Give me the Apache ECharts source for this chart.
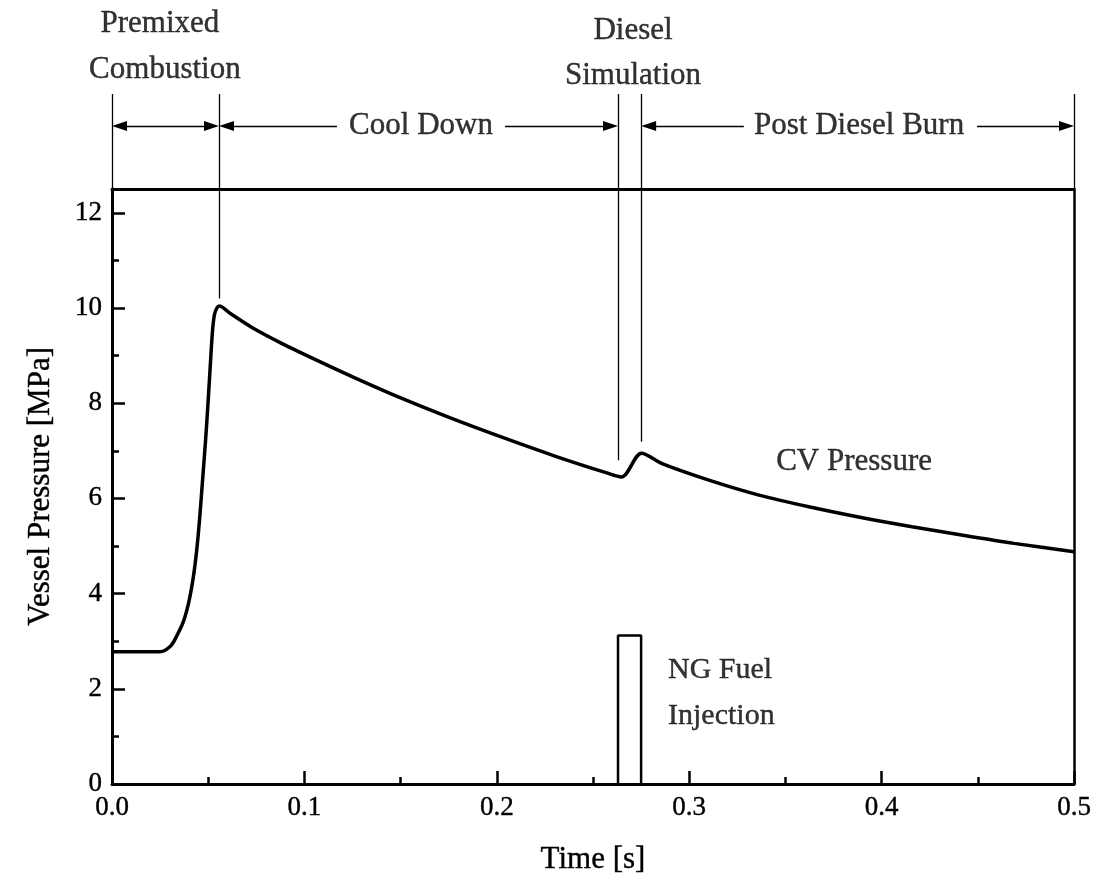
<!DOCTYPE html>
<html>
<head>
<meta charset="utf-8">
<script src="https://cdn.jsdelivr.net/npm/echarts@6/dist/echarts.min.js"></script>
<style>
  html, body { margin: 0; padding: 0; background: #fff; }
  #chart { width: 1098px; height: 885px; }
</style>
</head>
<body>
<div id="chart"></div>
<script>
// ─── Data ─────────────────────────────────────────────────────────────────
const timeS = [0, 0.025, 0.0305, 0.0335, 0.037, 0.0398, 0.0421, 0.044, 0.0456, 0.0471,
  0.0486, 0.0499, 0.0511, 0.0522, 0.0532, 0.0545, 0.0558, 0.0613, 0.0734, 0.089,
  0.1, 0.1242, 0.1507, 0.1772, 0.2037, 0.2302, 0.2568, 0.2648, 0.2752, 0.2859,
  0.3098, 0.3363, 0.3628, 0.3893, 0.4158, 0.4423, 0.4688, 0.5];
const pressureMPa = [2.78, 2.78, 2.9, 3.1, 3.4, 3.8, 4.3, 4.9, 5.6, 6.4,
  7.2, 8.0, 8.8, 9.5, 9.85, 10.0, 10.04, 9.89, 9.575, 9.24,
  9.025, 8.57, 8.10, 7.67, 7.27, 6.89, 6.54, 6.45, 6.95, 6.73,
  6.39, 6.07, 5.82, 5.60, 5.405, 5.225, 5.055, 4.88];

// NG fuel injection pulse (outline)
const injectionT = [0.263, 0.263, 0.275, 0.275];
const injectionLevel = [0, 3.12, 3.12, 0];

// phase boundaries and where their guide lines stop inside the plot
const phaseEdges = [0, 0.0556, 0.263, 0.275, 0.5];
const guideEnds = [null, 10.2, 6.8, 7.19, null];

const yMajor = [0, 2, 4, 6, 8, 10, 12];
const yMinor = [1, 3, 5, 7, 9, 11];

// ─── Helpers ──────────────────────────────────────────────────────────────
const FONT = "'Liberation Serif', 'Times New Roman', serif";
const zip = (a, b) => a.map((v, i) => [v, b[i]]);
const ARROW_Y = 0.667;
const HEAD = 0.0039;   // half an arrowhead, so the tip lands on the boundary

const textStyle = (size) => ({
  color: '#000', fontFamily: FONT, fontSize: size,
  textBorderColor: '#000', textBorderWidth: 0.4
});

const guideLines = phaseEdges
  .map((t, i) => guideEnds[i] == null ? null : [{ coord: [t, 12.5] }, { coord: [t, guideEnds[i]] }])
  .filter(Boolean);

const topVerticals = phaseEdges.map(t => [{ coord: [t, 0] }, { coord: [t, 1.005] }]);

function arrowSeg(x0, x1, a0, a1) {
  return [
    { coord: [a0 ? x0 + HEAD : x0, ARROW_Y], symbol: a0 ? 'triangle' : 'none' },
    { coord: [a1 ? x1 - HEAD : x1, ARROW_Y], symbol: a1 ? 'triangle' : 'none' }
  ];
}

const topArrows = [
  arrowSeg(phaseEdges[0], phaseEdges[1], true, true),
  arrowSeg(phaseEdges[1], 0.1169, true, false),
  arrowSeg(0.2043, phaseEdges[2], false, true),
  arrowSeg(phaseEdges[3], 0.3284, true, false),
  arrowSeg(0.4496, phaseEdges[4], false, true)
];

const topTexts = [
  { value: [0.0249, 1.746], name: 'Premixed' },
  { value: [0.0275, 1.259], name: 'Combustion' },
  { value: [0.2708, 1.672], name: 'Diesel' },
  { value: [0.2708, 1.196], name: 'Simulation' },
  { value: [0.1606, ARROW_Y], name: 'Cool Down' },
  { value: [0.3883, ARROW_Y], name: 'Post Diesel Burn' }
];

const plotTexts = [
  { value: [0.3857, 6.76], name: 'CV Pressure', label: { fontSize: 31 } },
  { value: [0.289, 1.91], name: 'NG Fuel\nInjection', label: { align: 'left', lineHeight: 46 } }
];

// ─── Chart ────────────────────────────────────────────────────────────────
const chart = echarts.init(document.getElementById('chart'));

chart.setOption({
  animation: false,
  backgroundColor: '#fff',
  grid: [
    { left: 112, right: 24, top: 189, bottom: 101 },
    { left: 112, right: 24, top: 0, height: 189 }
  ],
  xAxis: [
    {
      gridIndex: 0, type: 'value', min: 0, max: 0.5, interval: 0.1,
      axisLine: { lineStyle: { color: '#000', width: 3 } },
      axisTick: { inside: true, length: 13, lineStyle: { color: '#000', width: 2.5 } },
      minorTick: { show: true, splitNumber: 2, length: 7, lineStyle: { color: '#000', width: 2.5 } },
      splitLine: { show: false },
      axisLabel: { ...textStyle(27), margin: 10, formatter: v => v.toFixed(1) },
      name: 'Time [s]', nameLocation: 'middle', nameGap: 60,
      nameTextStyle: textStyle(31)
    },
    {
      gridIndex: 0, type: 'value', min: 0, max: 0.5, position: 'top',
      axisLine: { show: true, onZero: false, lineStyle: { color: '#000', width: 3 } },
      axisTick: { show: false }, axisLabel: { show: false }, splitLine: { show: false }
    },
    { gridIndex: 1, type: 'value', min: 0, max: 0.5, show: false }
  ],
  yAxis: [
    {
      gridIndex: 0, type: 'value', min: 0, max: 12.5,
      axisLine: { show: true, lineStyle: { color: '#000', width: 3 } },
      axisTick: { show: true, inside: true, length: 13, customValues: yMajor, lineStyle: { color: '#000', width: 2.5 } },
      splitLine: { show: false },
      axisLabel: { ...textStyle(27), margin: 10, customValues: yMajor },
      name: 'Vessel Pressure [MPa]', nameLocation: 'middle', nameGap: 56,
      nameTextStyle: textStyle(31)
    },
    {
      gridIndex: 0, type: 'value', min: 0, max: 12.5, position: 'left',
      axisLine: { show: false },
      axisTick: { show: true, inside: true, length: 7, customValues: yMinor, lineStyle: { color: '#000', width: 2.5 } },
      axisLabel: { show: false }, splitLine: { show: false }
    },
    {
      gridIndex: 0, type: 'value', min: 0, max: 12.5, position: 'right',
      axisLine: { show: true, onZero: false, lineStyle: { color: '#000', width: 2.5 } },
      axisTick: { show: false }, axisLabel: { show: false }, splitLine: { show: false }
    },
    { gridIndex: 1, type: 'value', min: 0, max: 2, show: false }
  ],
  series: [
    {
      name: 'CV Pressure', type: 'line', xAxisIndex: 0, yAxisIndex: 0,
      data: zip(timeS, pressureMPa),
      symbol: 'none', smooth: 0.3,
      lineStyle: { color: '#000', width: 3.5 },
      markLine: {
        silent: true, symbol: ['none', 'none'],
        label: { show: false },
        lineStyle: { color: '#000', type: 'solid', width: 1.3 },
        data: guideLines
      }
    },
    {
      name: 'NG Fuel Injection', type: 'line', xAxisIndex: 0, yAxisIndex: 0,
      data: zip(injectionT, injectionLevel),
      symbol: 'none',
      lineStyle: { color: '#000', width: 2.5 }
    },
    {
      name: 'plot labels', type: 'scatter', xAxisIndex: 0, yAxisIndex: 0,
      symbolSize: 0, silent: true,
      label: { show: true, position: 'inside', formatter: p => p.name, ...textStyle(30) },
      data: plotTexts
    },
    {
      name: 'phases', type: 'scatter', xAxisIndex: 2, yAxisIndex: 3,
      symbolSize: 0, silent: true,
      label: { show: true, position: 'inside', formatter: p => p.name, ...textStyle(31) },
      data: topTexts,
      markLine: {
        silent: true, symbol: ['none', 'none'], symbolSize: [10, 15],
        label: { show: false },
        lineStyle: { color: '#000', type: 'solid', width: 1.3 },
        data: topVerticals.concat(topArrows)
      }
    }
  ]
});
</script>
</body>
</html>
